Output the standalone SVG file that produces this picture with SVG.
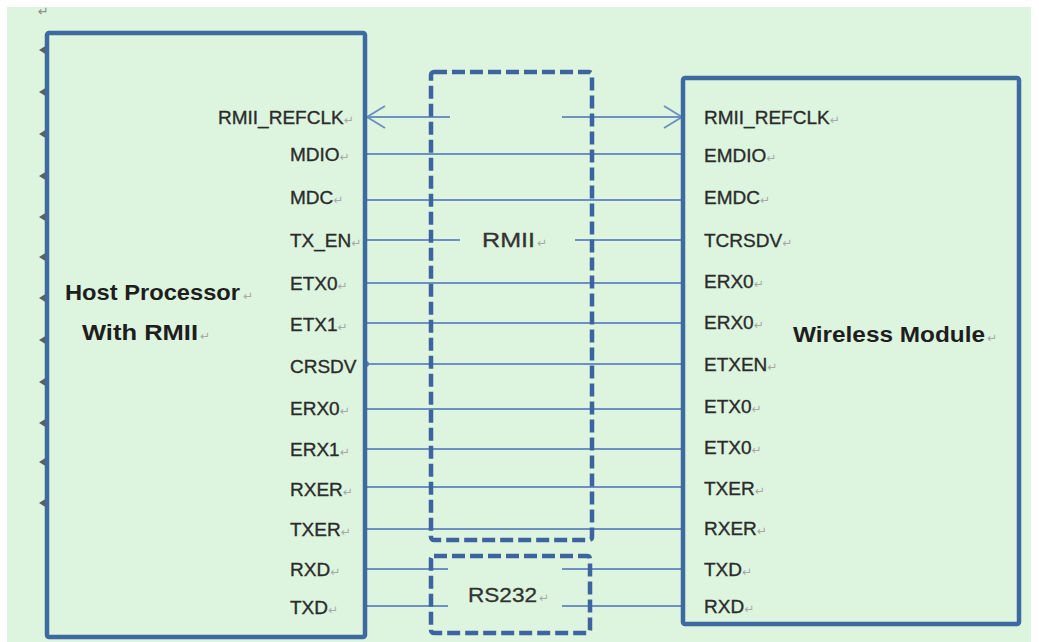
<svg xmlns="http://www.w3.org/2000/svg" width="1039" height="642" viewBox="0 0 1039 642">
<style>
.box{fill:none;stroke:#3f6aa1;stroke-width:4.5}
.dash{fill:none;stroke:#3d64a0;stroke-width:4.5;stroke-dasharray:13 5}
.wire{stroke:#6d91c2;stroke-width:2;fill:none}
.pin{font-family:"Liberation Sans",Arial,sans-serif;font-size:19px;fill:#2b2b2b;stroke:#2b2b2b;stroke-width:0.35}
.title{font-family:"Liberation Sans",Arial,sans-serif;font-size:22px;font-weight:bold;fill:#1e1e1e}
.mid{font-family:"Liberation Sans",Arial,sans-serif;font-size:20px;fill:#333;stroke:#333;stroke-width:0.3}
.pm{font-family:"DejaVu Sans","Liberation Sans",sans-serif;font-size:12px;fill:#a8a8a8;stroke:none;font-weight:normal}
.tick{fill:#5e5e5e}
</style>
<defs>
<marker id="open" viewBox="0 0 20 24" refX="19" refY="12" markerWidth="20" markerHeight="24" markerUnits="userSpaceOnUse" orient="auto-start-reverse">
<path d="M1,1 L19,12 L1,23" fill="none" stroke="#6d91c2" stroke-width="2"/>
</marker>
</defs>
<rect x="0" y="0" width="1039" height="642" fill="#ffffff"/>
<rect x="7" y="7" width="1024" height="635" fill="#ddf5de"/>
<g id="margin-marks">
<text x="38" y="16" class="pm" style="font-size:13px;fill:#888">↵</text>
<path class="tick" d="M47,45 L39,50 L47,55 Z M47,87 L39,92 L47,97 Z M47,129 L39,134 L47,139 Z M47,171 L39,176 L47,181 Z M47,212 L39,217 L47,222 Z M47,252 L39,257 L47,262 Z M47,293 L39,298 L47,303 Z M47,335 L39,340 L47,345 Z M47,377 L39,382 L47,387 Z M47,418 L39,423 L47,428 Z M47,457 L39,462 L47,467 Z M47,498 L39,503 L47,508 Z"/>
</g>
<g id="connectors">
<line class="wire" x1="367" y1="117" x2="450" y2="117" marker-start="url(#open)"/>
<line class="wire" x1="562" y1="117" x2="682" y2="117" marker-end="url(#open)"/>
<line class="wire" x1="367" y1="154" x2="683" y2="154"/>
<line class="wire" x1="367" y1="200" x2="683" y2="200"/>
<line class="wire" x1="367" y1="240" x2="460" y2="240"/>
<line class="wire" x1="575" y1="240" x2="683" y2="240"/>
<line class="wire" x1="367" y1="283" x2="683" y2="283"/>
<line class="wire" x1="367" y1="323" x2="683" y2="323"/>
<line class="wire" x1="367" y1="364" x2="683" y2="364"/>
<line class="wire" x1="367" y1="409" x2="683" y2="409"/>
<line class="wire" x1="367" y1="449" x2="683" y2="449"/>
<line class="wire" x1="367" y1="487" x2="683" y2="487"/>
<line class="wire" x1="367" y1="529" x2="683" y2="529"/>
<line class="wire" x1="367" y1="569" x2="448" y2="569"/>
<line class="wire" x1="562" y1="569" x2="683" y2="569"/>
<line class="wire" x1="367" y1="606" x2="448" y2="606"/>
<line class="wire" x1="562" y1="606" x2="683" y2="606"/>
<circle cx="366" cy="364" r="3" fill="#5a7fb5"/>
</g>
<g id="host">
<rect class="box" x="47" y="33" width="318" height="604" rx="2"/>
<text class="title" x="65" y="300" textLength="175" lengthAdjust="spacingAndGlyphs">Host Processor</text><text class="pm" x="243" y="300">↵</text>
<text class="title" x="82" y="340" textLength="116" lengthAdjust="spacingAndGlyphs">With RMII</text><text class="pm" x="200" y="340">↵</text>
<text class="pin" x="218" y="124">RMII_REFCLK<tspan class="pm">↵</tspan></text>
<text class="pin" x="290" y="161">MDIO<tspan class="pm">↵</tspan></text>
<text class="pin" x="290" y="204">MDC<tspan class="pm">↵</tspan></text>
<text class="pin" x="290" y="247">TX_EN<tspan class="pm">↵</tspan></text>
<text class="pin" x="290" y="290">ETX0<tspan class="pm">↵</tspan></text>
<text class="pin" x="290" y="331">ETX1<tspan class="pm">↵</tspan></text>
<text class="pin" x="290" y="373">CRSDV</text>
<text class="pin" x="290" y="415">ERX0<tspan class="pm">↵</tspan></text>
<text class="pin" x="290" y="456">ERX1<tspan class="pm">↵</tspan></text>
<text class="pin" x="290" y="496">RXER<tspan class="pm">↵</tspan></text>
<text class="pin" x="290" y="536">TXER<tspan class="pm">↵</tspan></text>
<text class="pin" x="290" y="576">RXD<tspan class="pm">↵</tspan></text>
<text class="pin" x="290" y="614">TXD<tspan class="pm">↵</tspan></text>
</g>
<g id="module">
<rect class="box" x="683" y="78" width="336" height="546" rx="2"/>
<text class="title" x="793" y="342" textLength="192" lengthAdjust="spacingAndGlyphs">Wireless Module</text><text class="pm" x="987" y="342">↵</text>
<text class="pin" x="704" y="124">RMII_REFCLK<tspan class="pm">↵</tspan></text>
<text class="pin" x="704" y="162">EMDIO<tspan class="pm">↵</tspan></text>
<text class="pin" x="704" y="204">EMDC<tspan class="pm">↵</tspan></text>
<text class="pin" x="704" y="247">TCRSDV<tspan class="pm">↵</tspan></text>
<text class="pin" x="704" y="288">ERX0<tspan class="pm">↵</tspan></text>
<text class="pin" x="704" y="329">ERX0<tspan class="pm">↵</tspan></text>
<text class="pin" x="704" y="371">ETXEN<tspan class="pm">↵</tspan></text>
<text class="pin" x="704" y="413">ETX0<tspan class="pm">↵</tspan></text>
<text class="pin" x="704" y="454">ETX0<tspan class="pm">↵</tspan></text>
<text class="pin" x="704" y="495">TXER<tspan class="pm">↵</tspan></text>
<text class="pin" x="704" y="535">RXER<tspan class="pm">↵</tspan></text>
<text class="pin" x="704" y="576">TXD<tspan class="pm">↵</tspan></text>
<text class="pin" x="704" y="613">RXD<tspan class="pm">↵</tspan></text>
</g>
<g id="rmii">
<rect class="dash" x="431" y="72" width="161" height="468" rx="3"/>
<text class="mid" x="482" y="247" textLength="53" lengthAdjust="spacingAndGlyphs">RMII</text><text class="pm" x="537" y="247">↵</text>
</g>
<g id="rs232">
<rect class="dash" x="431" y="556" width="159" height="77" rx="3"/>
<text class="mid" x="468" y="602" textLength="69" lengthAdjust="spacingAndGlyphs">RS232</text><text class="pm" x="539" y="602">↵</text>
</g>
</svg>
